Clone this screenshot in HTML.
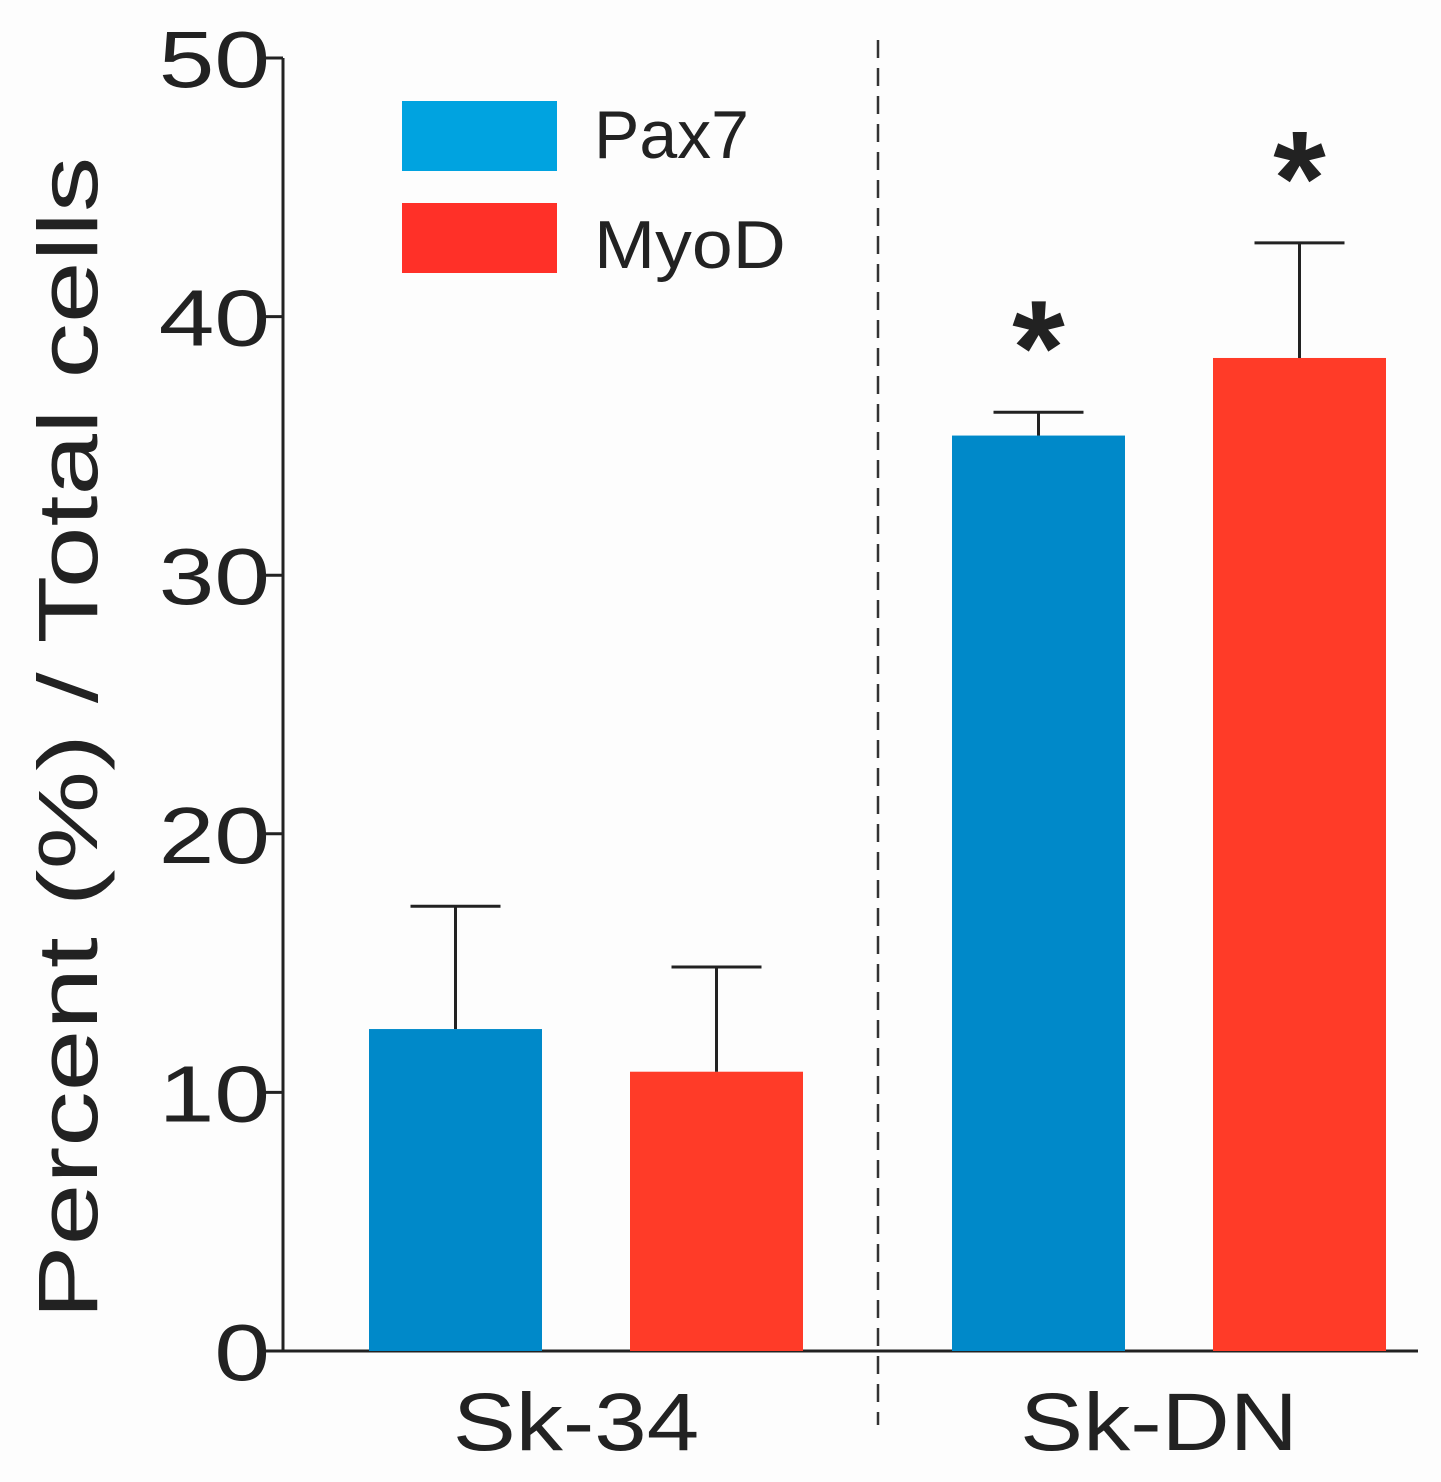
<!DOCTYPE html>
<html><head><meta charset="utf-8"><style>
html,body{margin:0;padding:0;background:#fdfdfd;}
svg{display:block;font-family:"Liberation Sans",Arial,sans-serif;}
</style></head><body>
<svg id="chart" width="1441" height="1482" viewBox="0 0 1441 1482">
<g id="axes"></g><g id="bars"></g>
<line x1="878" y1="40" x2="878" y2="1425" stroke="#333" stroke-width="2.5" stroke-dasharray="18,10"/>
<text transform="translate(97,738) rotate(-90) scale(1.32,1)" text-anchor="middle" font-size="84" fill="#222">Percent (%) / Total cells</text>
<rect x="402" y="101" width="155" height="70" fill="#00A3E0"/>
<text x="594" y="158" font-size="68" fill="#222">Pax7</text>
<rect x="402" y="203" width="155" height="70" fill="#FF3028"/>
<text transform="translate(594,268) scale(1.08,1)" font-size="68" fill="#222">MyoD</text>
</svg>
<script>
const categories=["Sk-34","Sk-DN"];
const pax7=[12.45,35.4];
const pax7Err=[4.75,0.9];
const myod=[10.8,38.4];
const myodErr=[4.05,4.45];
const sig=[false,true];
const yTicks=[0,10,20,30,40,50];
const NS="http://www.w3.org/2000/svg";
const y0=1351,yTop=58;
const y=v=>y0-(v/50)*(y0-yTop);
const groupX=[369,952],barW=173,gap=88;
const ax=document.getElementById('axes'),bg=document.getElementById('bars');
function mk(tag,attrs,parent){const e=document.createElementNS(NS,tag);for(const k in attrs)e.setAttribute(k,attrs[k]);parent.appendChild(e);return e;}
let l=mk('line',{x1:283,y1:yTop,x2:283,y2:y0,stroke:'#222','stroke-width':3},ax);


l=mk('line',{x1:283,y1:y0,x2:1418,y2:y0,stroke:'#222','stroke-width':3},ax);


yTicks.forEach(t=>{
 const tk=mk('line',{x1:262,y1:y(t),x2:283,y2:y(t),stroke:'#222','stroke-width':3},ax);
 
 
 const tx=mk('text',{transform:'translate(270,'+(y(t)+29)+') scale(1.25,1)','text-anchor':'end','font-size':80,fill:'#222'},ax);
 tx.textContent=t;
 
 
});
categories.forEach((c,i)=>{
 const series=[[pax7[i],pax7Err[i],'#0089C9','pax7'],[myod[i],myodErr[i],'#FF3B28','myod']];
 series.forEach((s,j)=>{
  const x=groupX[i]+j*(barW+gap);
  const r=mk('rect',{x:x,y:y(s[0]),width:barW,height:y0-y(s[0]),fill:s[2]},bg);
  
  
  const cx=x+barW/2,ye=y(s[0]+s[1]);
  const e1=mk('line',{x1:cx,y1:y(s[0]),x2:cx,y2:ye,stroke:'#222','stroke-width':3},bg);
  
  
  const e2=mk('line',{x1:cx-45,y1:ye,x2:cx+45,y2:ye,stroke:'#222','stroke-width':3},bg);
  
  
  if(sig[i]){
   const a=mk('text',{x:cx,y:ye-18,'text-anchor':'middle','font-size':135,'font-weight':'bold',fill:'#222'},bg);
   a.textContent='*';
   
   
  }
 });
 const lb=mk('text',{transform:'translate('+(groupX[i]+barW+gap/2-10)+',1450) scale(1.15,1)','text-anchor':'middle','font-size':82,fill:'#222'},bg);
 lb.textContent=c;
 
 
});
</script>
</body></html>
